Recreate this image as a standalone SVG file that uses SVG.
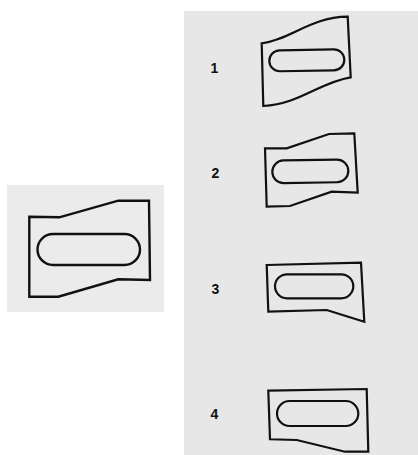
<svg xmlns="http://www.w3.org/2000/svg" width="418" height="455" viewBox="0 0 418 455">
<style>
.sh{fill:none;stroke:#111;stroke-width:2.2;stroke-linejoin:miter}
.lbl{font-family:"Liberation Sans",Arial,sans-serif;font-weight:bold;font-size:14px;fill:#111}
</style>
<rect width="418" height="455" fill="#fff"/>
<rect x="7" y="185" width="157" height="127" fill="#ebebeb"/>
<rect x="184" y="11" width="234" height="444" fill="#e7e7e7"/>
<g id="original">
<path class="sh" style="stroke-width:2.4" d="M29.3,216.7 L59.3,217.3 L118.3,200.7 L149,200.7 L150,280 L118.3,279.3 L58.3,296.7 L29.3,296.7 Z"/>
<rect class="sh" style="stroke-width:2.4" x="37.5" y="234" width="102.5" height="31" rx="15.5"/>
</g>
<g id="option1">
<text class="lbl" x="210.5" y="73">1</text>
<path class="sh" d="M261.7,43.3 C290,40 310,17 347.7,16.7 L350.7,77.3 C320,82 300,104 263.3,106 Z"/>
<rect class="sh" x="269.3" y="49.8" width="75" height="21" rx="10.5" transform="rotate(-1 307 60)"/>
</g>
<g id="option2">
<text class="lbl" x="211.5" y="177.5">2</text>
<path class="sh" d="M265,148.3 L286.7,148.3 L329,134 L354.3,133.3 L357.7,192.7 L331.7,191.7 L290,206 L266.7,206.7 Z"/>
<rect class="sh" x="272.3" y="160" width="76" height="22.7" rx="11.3" transform="rotate(-1 310 171)"/>
</g>
<g id="option3">
<text class="lbl" x="211.5" y="293.5">3</text>
<path class="sh" d="M266.7,265 L361,262.7 L364.3,321.7 L326.7,310 L268.3,311.7 Z"/>
<rect class="sh" x="275" y="274.3" width="78.3" height="24" rx="12"/>
</g>
<g id="option4">
<text class="lbl" x="210.5" y="419.3">4</text>
<path class="sh" d="M268.3,390.7 L366.7,389 L368.3,451.7 L345,451.7 L296.7,440 L270,439.3 Z"/>
<rect class="sh" x="277" y="401" width="81.3" height="25" rx="12.5"/>
</g>
</svg>
